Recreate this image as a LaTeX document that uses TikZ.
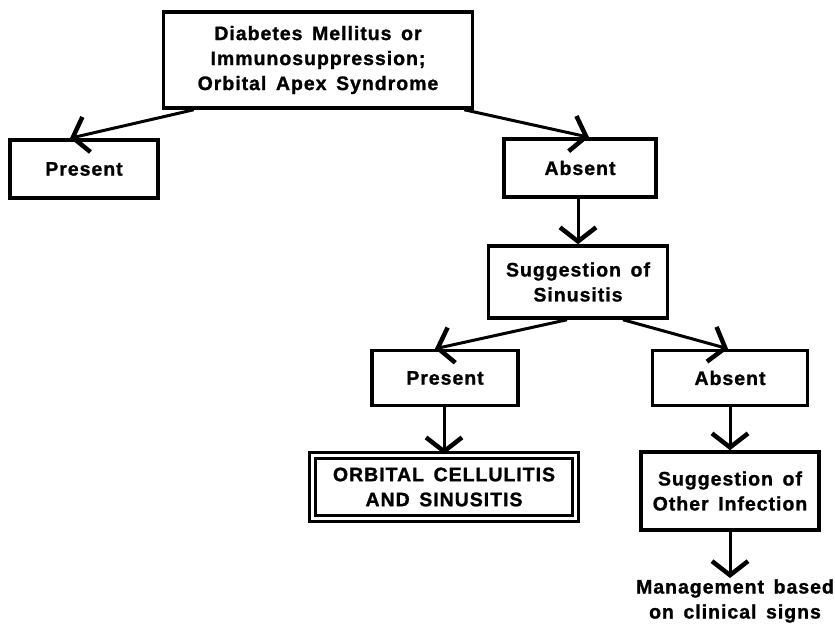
\documentclass[tikz,border=0pt]{standalone}
\usepackage{fontspec}
\setmainfont{Liberation Sans}[BoldFont={* Bold},BoldFeatures={LetterSpace=5,FakeBold=1.2,WordSpace=1.5}]
\usetikzlibrary{arrows.meta,calc}
\begin{document}
\begin{tikzpicture}[x=1bp,y=-1bp,
  box/.style={draw,line width=3.5bp,align=center,inner sep=0pt,
    font=\fontsize{19.5bp}{25bp}\selectfont\bfseries},
  dbox/.style={box,line width=2.5bp,double,double distance=3.5bp},
  txt/.style={align=center,inner sep=0pt,font=\fontsize{19.5bp}{25bp}\selectfont\bfseries},
  arr/.style={line width=3bp,-{Straight Barb[length=14bp,width=36bp,line width=4.5bp]}}]
\useasboundingbox (0,0) rectangle (835,624);
\node[box,minimum width=309bp,minimum height=96bp] (top) at (318,60)
  {Diabetes Mellitus or\\Immunosuppression;\\Orbital Apex Syndrome};
\node[box,minimum width=148bp,minimum height=58bp] (pres1) at (84,169) {Present};
\node[box,minimum width=152bp,minimum height=58bp] (abs1) at (580,168) {Absent};
\node[box,minimum width=179bp,minimum height=72bp] (sinus) at (578,282) {Suggestion of\\Sinusitis};
\node[box,minimum width=146bp,minimum height=55bp] (pres2) at (445,378) {Present};
\node[box,minimum width=155bp,minimum height=55bp] (abs2) at (730,378) {Absent};
\node[dbox,minimum width=263bp,minimum height=63bp] (orb) at (444,487) {ORBITAL\ CELLULITIS\\AND\ SINUSITIS};
\node[box,minimum width=178bp,minimum height=78bp] (other) at (730,491) {Suggestion of\\Other Infection};
\node[txt] (mgmt) at (735,601) {Management based\\on clinical signs};
\coordinate (mtip) at (730,578);
\draw[arr] ([xshift=32bp]top.south west) -- ([xshift=-14bp]pres1.north);
\draw[arr] ([xshift=-10bp]top.south east) -- ([xshift=9bp]abs1.north);
\draw[arr] (sinus.north |- abs1.south) -- (sinus.north);
\draw[arr] ([xshift=-11bp]sinus.south) -- ([xshift=-10bp]pres2.north);
\draw[arr] ([xshift=45bp]sinus.south) -- ([xshift=-2bp]abs2.north);
\draw[arr] (orb.north |- pres2.south) -- (orb.north);
\draw[arr] (other.north |- abs2.south) -- (other.north);
\draw[arr] (other.south) -- (mtip);
\end{tikzpicture}
\end{document}
